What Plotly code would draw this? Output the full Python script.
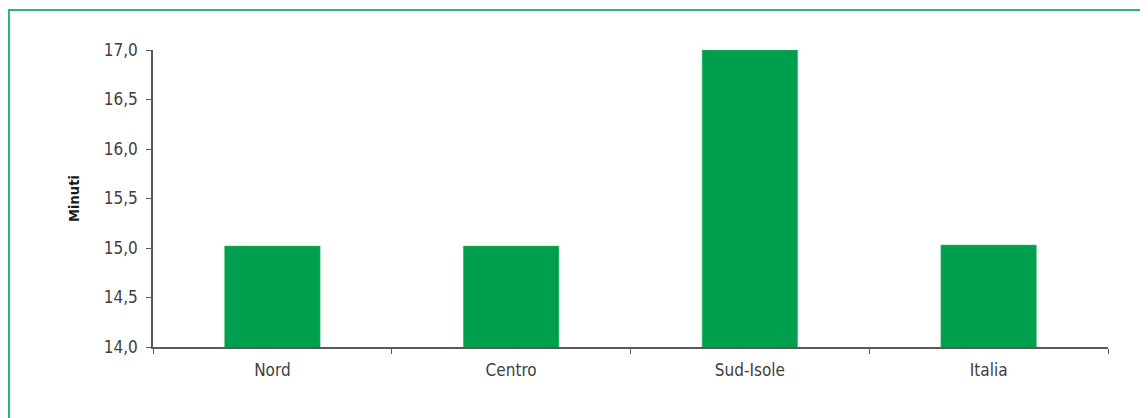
import plotly.graph_objects as go

categories = ["Nord", "Centro", "Sud-Isole", "Italia"]
values = [15.02, 15.02, 17.0, 15.03]
y_title = "Minuti"

W, H = 1140, 410
L, R, T, B = 145, 40, 42, 71
pw, ph = W - L - R, H - T - B

FONT = "Liberation Sans Narrow, DejaVu Sans Condensed, Arial Narrow, sans-serif"

fig = go.Figure(go.Bar(
    x=categories, y=values, width=0.4,
    marker=dict(color="#009F4D", line=dict(color="#3dba74", width=0.5)),
))

fig.update_layout(
    width=W, height=H,
    margin=dict(l=L, r=R, t=T, b=B),
    paper_bgcolor="white", plot_bgcolor="white",
    separators=",.",
    showlegend=False,
    font=dict(family=FONT, size=17, color="#404040"),
    shapes=[dict(
        type="rect", xref="paper", yref="paper",
        x0=(1 - L) / pw, x1=(W + 20 - L) / pw,
        y0=-0.6, y1=1 + (T - 2) / ph,
        line=dict(color="#2BB673", width=2), fillcolor="rgba(0,0,0,0)",
        layer="below",
    )],
)
fig.update_xaxes(
    showline=True, linecolor="#595959", linewidth=1.5,
    ticks="outside", tickson="boundaries", ticklen=5, tickcolor="#595959",
    tickfont=dict(family=FONT, size=17, color="#404040"),
    ticklabelstandoff=7,
    showgrid=False,
)
fig.update_yaxes(
    range=[14, 17], dtick=0.5, tickformat=".1f",
    showline=True, linecolor="#595959", linewidth=1.5,
    ticks="outside", ticklen=5, tickcolor="#595959",
    tickfont=dict(family=FONT, size=17, color="#404040"),
    ticklabelstandoff=5,
    showgrid=False, zeroline=False,
    title=dict(text="<b>" + y_title + "</b>", font=dict(family=FONT, size=14.5, color="#1a1a1a"), standoff=21),
)

fig.write_html("out.html")
